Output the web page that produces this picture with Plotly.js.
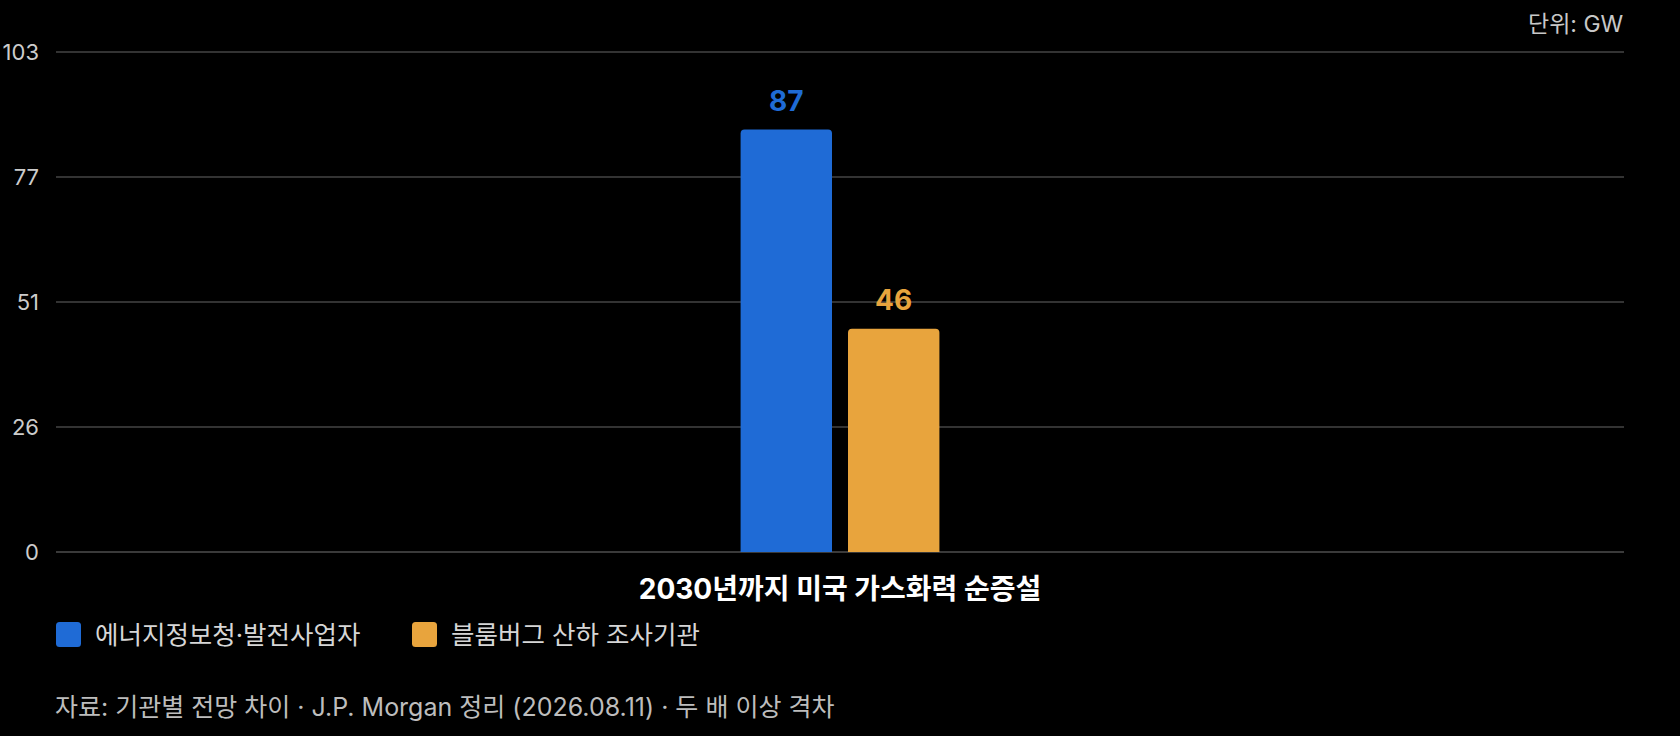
<!DOCTYPE html>
<html>
<head>
<meta charset="utf-8">
<script src="https://cdn.plot.ly/plotly-3.0.1.min.js"></script>
<style>
  html, body { margin: 0; padding: 0; background: #000; }
  #chart { width: 1680px; height: 736px; }
</style>
</head>
<body>
<div id="chart"></div>
<script>
  /* ---------------- data ---------------- */
  var categories = ['2030년까지 미국 가스화력 순증설'];
  var seriesNames = ['에너지정보청·발전사업자', '블룸버그 산하 조사기관'];
  var seriesValues = [[87], [46]];
  var seriesColors = ['#1f6bd6', '#e8a43d'];
  var yTickVals = [0, 25.75, 51.5, 77.25, 103];
  var yTickText = ['0', '26', '51', '77', '103'];
  var unitText = '단위: GW';
  var sourceText = '자료: 기관별 전망 차이 · J.P. Morgan 정리 (2026.08.11) · 두 배 이상 격차';

  var fontFamily = 'Inter, "Noto Sans CJK KR", "Noto Sans", sans-serif';

  /* ---------------- traces ---------------- */
  var data = [];
  for (var i = 0; i < seriesNames.length; i++) {
    data.push({
      type: 'bar',
      name: seriesNames[i],
      x: categories,
      y: seriesValues[i],
      marker: { color: seriesColors[i], line: { width: 0 } },
      hoverinfo: 'skip',
      showlegend: false
    });
  }

  /* ---------------- value labels / legend / notes ---------------- */
  var annotations = [];
  var shapes = [];
  var barShift = [-53.75, 53.75];
  for (var i = 0; i < seriesNames.length; i++) {
    for (var j = 0; j < categories.length; j++) {
      annotations.push({
        xref: 'x', yref: 'y',
        x: categories[j], y: seriesValues[i][j],
        text: '<b>' + seriesValues[i][j] + '</b>',
        showarrow: false,
        xshift: barShift[i], yshift: 10,
        yanchor: 'bottom',
        font: { family: fontFamily, size: 28, color: seriesColors[i] }
      });
    }
  }

  // legend drawn by hand so the swatches can be large (rounded squares)
  function swatchPath(x) {
    var w = 25, h = 12.5, r = 3.5;
    return 'M' + (x + r) + ',' + (-h) +
      ' H' + (x + w - r) + ' Q' + (x + w) + ',' + (-h) + ' ' + (x + w) + ',' + (-h + r) +
      ' V' + (h - r) + ' Q' + (x + w) + ',' + h + ' ' + (x + w - r) + ',' + h +
      ' H' + (x + r) + ' Q' + x + ',' + h + ' ' + x + ',' + (h - r) +
      ' V' + (-h + r) + ' Q' + x + ',' + (-h) + ' ' + (x + r) + ',' + (-h) + ' Z';
  }
  var legendX = [0, 356];
  for (var i = 0; i < seriesNames.length; i++) {
    shapes.push({
      type: 'path', xref: 'paper', yref: 'paper',
      xsizemode: 'pixel', ysizemode: 'pixel',
      xanchor: 0, yanchor: -0.164,
      path: swatchPath(legendX[i]),
      fillcolor: seriesColors[i], line: { width: 0 }
    });
    annotations.push({
      xref: 'paper', yref: 'paper',
      x: 0, y: -0.164, xshift: legendX[i] + 37,
      xanchor: 'left', yanchor: 'middle',
      text: seriesNames[i], showarrow: false,
      font: { family: fontFamily, size: 25.5, color: '#d6d6d6' }
    });
  }

  annotations.push({
    xref: 'paper', yref: 'paper', x: 1, y: 1.05, xshift: 2,
    xanchor: 'right', yanchor: 'middle',
    text: unitText, showarrow: false,
    font: { family: fontFamily, size: 23, color: '#c8c8c8' }
  });
  annotations.push({
    xref: 'paper', yref: 'paper', x: 0, y: -0.309, xshift: -3,
    xanchor: 'left', yanchor: 'middle',
    text: sourceText, showarrow: false,
    font: { family: fontFamily, size: 25, color: '#bdbdbd' }
  });

  /* ---------------- layout ---------------- */
  var layout = {
    width: 1680,
    height: 736,
    paper_bgcolor: '#000',
    plot_bgcolor: '#000',
    margin: { l: 56, r: 56, t: 49, b: 184, pad: 0 },
    font: { family: fontFamily, color: '#cccccc' },
    barmode: 'group',
    bargap: 0.863,
    bargroupgap: 0.149,
    barcornerradius: 4,
    showlegend: false,
    xaxis: {
      type: 'category',
      showgrid: false,
      zeroline: false,
      showline: false,
      ticks: '',
      ticklabelstandoff: 18,
      tickfont: { family: fontFamily, size: 28, color: '#ffffff', weight: 'bold' },
      fixedrange: true
    },
    yaxis: {
      range: [0, 103.6],
      tickmode: 'array',
      tickvals: yTickVals,
      ticktext: yTickText,
      showgrid: true,
      gridcolor: '#333333',
      gridwidth: 1.5,
      zeroline: true,
      zerolinecolor: '#3a3a3a',
      zerolinewidth: 1.5,
      showline: false,
      ticks: '',
      ticklabelstandoff: 16,
      tickfont: { family: fontFamily, size: 22, color: '#cccccc' },
      fixedrange: true
    },
    annotations: annotations,
    shapes: shapes
  };

  Plotly.newPlot('chart', data, layout, { displayModeBar: false, staticPlot: true });
</script>
</body>
</html>
